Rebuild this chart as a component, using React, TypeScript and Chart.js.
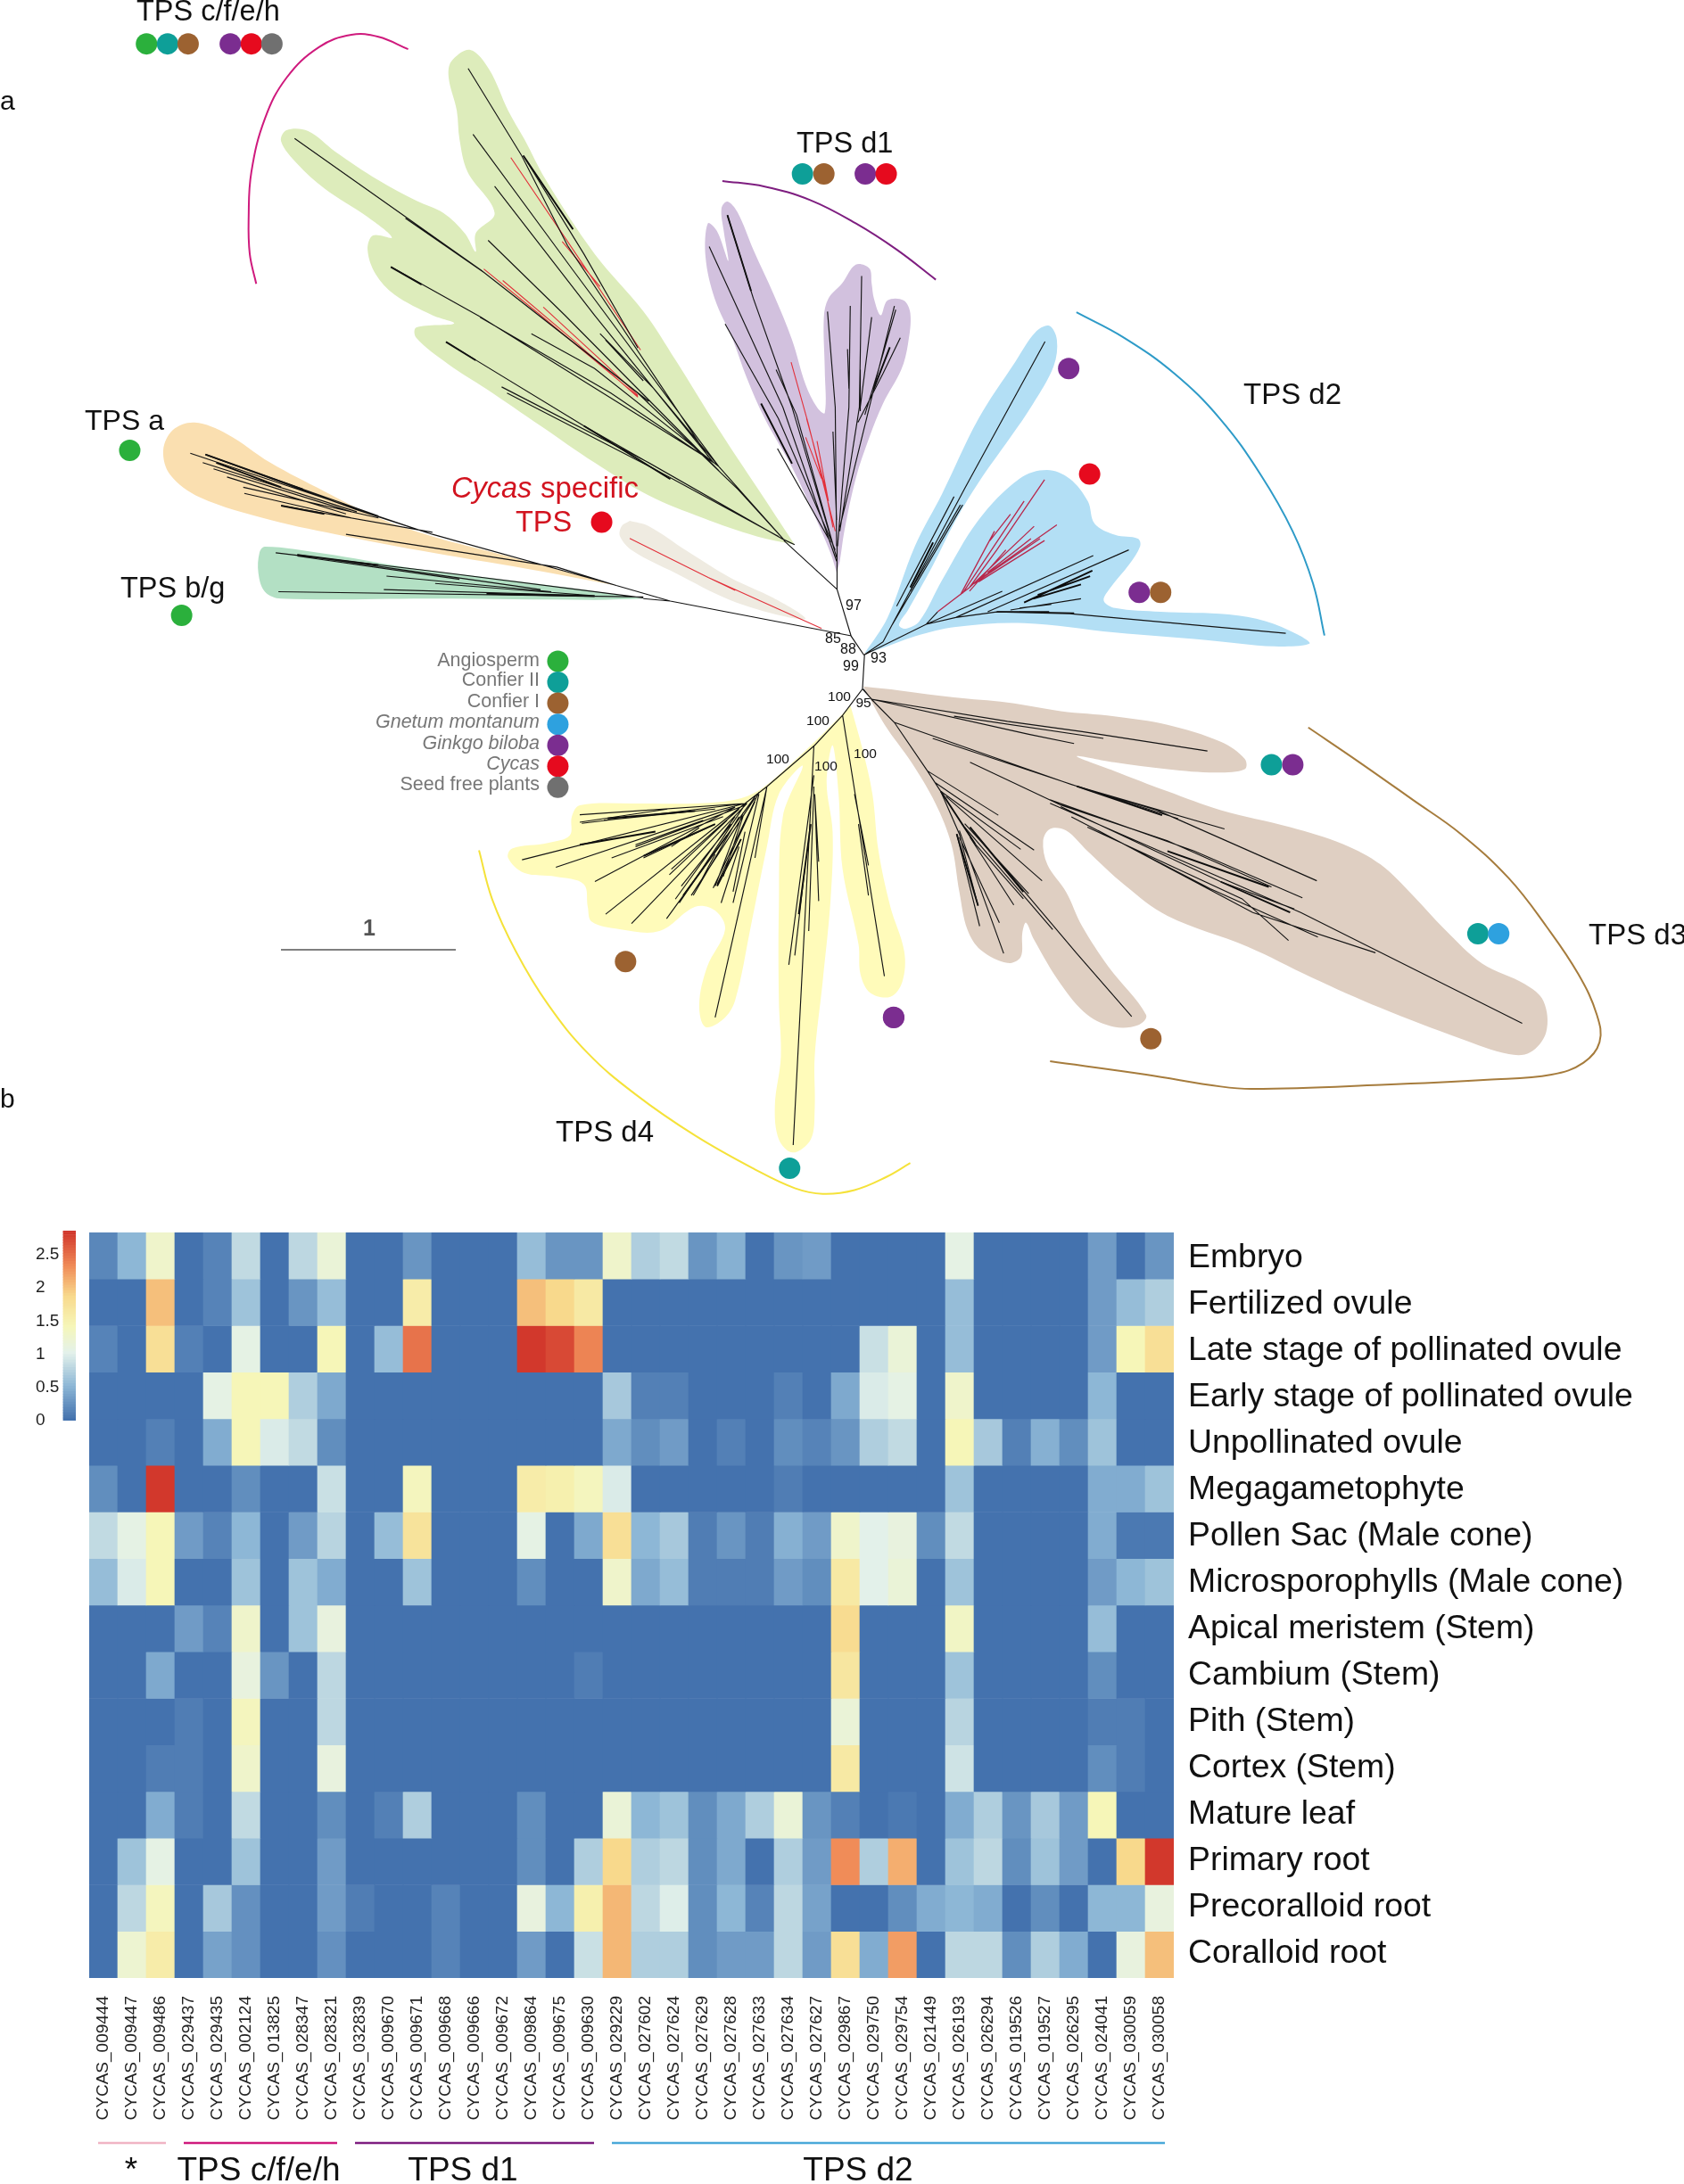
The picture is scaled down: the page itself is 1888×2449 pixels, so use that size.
import React, { useEffect, useRef } from "react";
import { Chart, registerables } from "chart.js";

Chart.register(...registerables);

const FONT = '"Liberation Sans", Arial, sans-serif';

// ---------- heat map values ----------
const genes = ["CYCAS_009444","CYCAS_009447","CYCAS_009486","CYCAS_029437","CYCAS_029435","CYCAS_002124","CYCAS_013825","CYCAS_028347","CYCAS_028321","CYCAS_032839","CYCAS_009670","CYCAS_009671","CYCAS_009668","CYCAS_009666","CYCAS_009672","CYCAS_009864","CYCAS_009675","CYCAS_009630","CYCAS_029229","CYCAS_027602","CYCAS_027624","CYCAS_027629","CYCAS_027628","CYCAS_027633","CYCAS_027634","CYCAS_027627","CYCAS_029867","CYCAS_029750","CYCAS_029754","CYCAS_021449","CYCAS_026193","CYCAS_026294","CYCAS_019526","CYCAS_019527","CYCAS_026295","CYCAS_024041","CYCAS_030059","CYCAS_030058"];
const tissues = ["Embryo","Fertilized ovule","Late stage of pollinated ovule","Early stage of pollinated ovule","Unpollinated ovule","Megagametophyte","Pollen Sac (Male cone)","Microsporophylls (Male cone)","Apical meristem (Stem)","Cambium (Stem)","Pith (Stem)","Cortex (Stem)","Mature leaf","Primary root","Precoralloid root","Coralloid root"];
const embryo =      [.15,.5,1.25,0,.12,.8,0,.78,1.15,0,0,.25,0,0,0,.55,.25,.25,1.25,.7,.8,.25,.45,0,.25,.3,0,0,0,0,1.05,0,0,0,0,.3,0,.25];
const fertilized =  [0,0,2,0,.12,.6,0,.25,.55,0,0,1.55,0,0,0,2,1.85,1.6,0,0,0,0,0,0,0,0,0,0,0,0,.55,0,0,0,0,.3,.55,.7];
const lateStage =   [.12,0,1.75,.1,0,1.05,0,0,1.4,0,.55,2.45,0,0,0,2.8,2.7,2.35,0,0,0,0,0,0,0,0,0,.85,1.15,0,.55,0,0,0,0,.3,1.4,1.75];
const earlyStage =  [0,0,0,0,1.05,1.4,1.4,.7,.4,0,0,0,0,0,0,0,0,0,.65,.1,.1,0,0,0,.1,0,.4,.95,1.05,0,1.25,0,0,0,0,.5,0,0];
const unpollinated =[0,0,.1,0,.42,1.4,.95,.8,.2,0,0,0,0,0,0,0,0,0,.4,.2,.3,0,.1,0,.2,.12,.25,.7,.8,0,1.4,.65,.1,.45,.2,.6,0,0];
const megagameto =  [.2,0,2.8,0,0,.2,0,0,.85,0,0,1.35,0,0,0,1.55,1.5,1.35,.95,0,0,0,0,0,.08,0,0,0,0,0,.6,0,0,0,0,.42,.42,.6];
const pollenSac =   [.8,1.05,1.4,.3,.12,.5,0,.3,.75,0,.55,1.7,0,0,0,1.05,0,.4,1.75,.5,.65,.08,.25,.08,.45,.3,1.25,1,1.1,.2,.8,0,0,0,0,.42,.05,.05];
const microsporo =  [.55,.95,1.4,0,0,.6,0,.6,.42,0,0,.6,0,0,0,.2,0,0,1.25,.4,.55,.08,.08,.08,.3,.2,1.6,1,1.15,0,.6,0,0,0,0,.3,.5,.6];
const apical =      [0,0,0,.3,.12,1.25,0,.6,1.1,0,0,0,0,0,0,0,0,0,0,0,0,0,0,0,0,0,1.8,0,0,0,1.3,0,0,0,0,.55,0,0];
const cambium =     [0,0,.4,0,0,1.1,.25,0,.78,0,0,0,0,0,0,0,0,.08,0,0,0,0,0,0,0,0,1.65,0,0,0,.6,0,0,0,0,.2,0,0];
const pith =        [0,0,0,.08,0,1.35,0,0,.78,0,0,0,0,0,0,0,0,0,0,0,0,0,0,0,0,0,1.15,0,0,0,.75,0,0,0,0,.08,.08,0];
const cortex =      [0,0,.08,.08,0,1.25,0,0,1.1,0,0,0,0,0,0,0,0,0,0,0,0,0,0,0,0,0,1.6,0,0,0,.88,0,0,0,0,.2,.08,0];
const matureLeaf =  [0,0,.42,.08,0,.8,0,0,.2,0,.1,.7,0,0,0,.2,0,0,1.15,.5,.6,.2,.4,.7,1.15,.25,.1,0,.05,0,.42,.7,.25,.65,.3,1.4,0,0];
const primaryRoot = [0,.6,1.05,0,0,.6,0,0,.3,0,0,0,0,0,0,.2,0,.7,1.85,.7,.78,.2,.4,0,.7,.3,2.3,.7,2.1,0,.6,.78,.2,.6,.3,0,1.85,2.8];
const precoralloid =[0,.78,1.35,0,.65,.22,0,0,.3,.08,0,0,.12,0,0,1.1,.5,1.5,2.05,.78,.97,.2,.5,.12,.78,.35,0,0,.2,.42,.5,.42,0,.2,0,.5,.5,1.1];
const coralloid =   [0,1.2,1.55,0,.35,.22,0,0,.22,0,0,0,.12,0,0,.3,0,.85,2.05,.7,.7,.2,.3,.3,.78,.3,1.75,.42,2.2,0,.78,.78,.2,.7,.42,0,1.1,2];
const expression = [embryo,fertilized,lateStage,earlyStage,unpollinated,megagameto,pollenSac,microsporo,apical,cambium,pith,cortex,matureLeaf,primaryRoot,precoralloid,coralloid];

const colourStopValues = [0,.5,1,1.4,1.85,2.3,2.86];
const colourStops = [[68,114,174],[141,183,214],[227,241,234],[246,246,184],[248,217,140],[240,140,88],[206,46,39]];
const scaleTicks = [0,.5,1,1.5,2,2.5];
const scaleMax = 2.86;

// ---------- tree: measured in calibrated crops of the figure ----------
const F4 = [0,0,1.65,2.178], F5 = [740,120,1.96,2.376], F6 = [400,680,2.24,2.376], F7 = [950,740,1.672,2.613];

const cladeGreen = [[1470,1330],[1400,1190],[1330,1050],[1250,880],[1190,760],[1100,620],[1010,440],[970,340],[940,270],[905,170],[870,122],[835,150],[830,190],[845,270],[850,340],[865,420],[915,520],[880,570],[880,615],[860,570],[820,520],[770,490],[700,440],[620,370],[570,320],[530,318],[520,345],[550,400],[600,460],[680,530],[725,580],[690,575],[680,610],[695,670],[730,720],[800,770],[840,790],[770,800],[770,825],[830,890],[900,950],[1000,1040],[1100,1130],[1200,1210],[1300,1265],[1400,1310],[1470,1330]];
const cladeOrange = [[1140,1430],[1000,1380],[900,1345],[800,1310],[700,1265],[600,1200],[500,1130],[420,1060],[360,1032],[320,1050],[302,1100],[315,1160],[370,1215],[500,1270],[640,1310],[800,1350],[1000,1395],[1140,1430]];
const cladeTeal = [[1190,1462],[1050,1435],[900,1410],[750,1385],[600,1352],[490,1335],[480,1350],[478,1400],[490,1445],[520,1462],[800,1462],[1100,1465],[1190,1462]];
const cladeBeige = [[1165,1272],[1200,1285],[1270,1345],[1350,1410],[1430,1460],[1490,1510],[1450,1505],[1350,1465],[1250,1400],[1170,1345],[1147,1310],[1150,1285],[1165,1272]];
const cladePurple = [[388,1240],[375,1190],[340,1090],[290,960],[230,830],[190,720],[160,620],[120,510],[100,400],[105,310],[125,330],[150,410],[140,330],[135,270],[148,252],[170,280],[205,380],[250,500],[290,620],[320,740],[345,800],[362,815],[362,700],[360,560],[370,510],[400,470],[430,420],[460,430],[465,470],[470,510],[485,555],[500,515],[535,515],[550,550],[545,630],[530,700],[490,790],[460,880],[430,990],[405,1130],[395,1210],[388,1240]];
const cladeBlue = [[450,1455],[500,1360],[560,1170],[620,1030],[700,830],[780,680],[825,600],[855,583],[872,620],[865,690],[820,790],[770,880],[700,1000],[650,1100],[600,1220],[545,1340],[525,1380],[540,1390],[570,1370],[620,1260],[700,1100],[790,990],[850,967],[900,990],[940,1050],[955,1110],[1000,1140],[1050,1150],[1055,1170],[1030,1220],[990,1280],[975,1315],[1000,1335],[1100,1345],[1250,1352],[1330,1370],[1400,1405],[1427,1430],[1350,1437],[1200,1420],[1000,1400],[800,1375],[650,1385],[560,1410],[480,1445],[450,1455]];
const cladeBrown = [[30,78],[100,90],[200,110],[300,125],[400,150],[500,165],[600,190],[700,240],[745,290],[745,320],[690,330],[600,320],[500,300],[430,282],[500,325],[600,385],[700,440],[830,490],[930,540],[1000,600],[1060,690],[1120,790],[1190,890],[1270,950],[1305,1000],[1310,1090],[1280,1150],[1240,1155],[1150,1110],[1000,1020],[870,930],[750,840],[600,750],[520,660],[450,560],[410,500],[380,495],[367,530],[375,600],[410,680],[440,780],[490,900],[560,1040],[545,1070],[500,1075],[450,1040],[400,950],[350,820],[335,770],[328,800],[325,870],[300,888],[250,850],[225,790],[210,680],[195,540],[165,420],[120,300],[70,190],[30,78]];
const cladeYellow = [[1240,265],[1170,340],[1090,420],[1010,490],[950,515],[850,525],[700,525],[560,530],[540,560],[535,610],[480,630],[390,645],[380,670],[420,710],[500,720],[570,740],[580,800],[590,840],[660,860],[760,865],[850,800],[900,810],[925,860],[880,960],[860,1060],[875,1120],[920,1100],[950,1050],[990,850],[1030,640],[1060,500],[1120,425],[1070,560],[1060,800],[1060,1050],[1065,1200],[1050,1330],[1060,1420],[1095,1455],[1140,1420],[1150,1340],[1150,1200],[1170,1000],[1190,780],[1195,600],[1180,470],[1195,370],[1210,500],[1220,700],[1260,900],[1265,980],[1290,1030],[1340,1040],[1370,1000],[1375,920],[1340,800],[1310,650],[1295,500],[1270,380],[1240,265]];

const arcMagenta = [[755,120],[700,90],[650,85],[590,115],[530,190],[490,290],[465,420],[460,530],[462,620],[474,693]];
const arcPurple = [[137,197],[230,212],[330,248],[430,310],[520,380],[606,460]];
const arcBlue = [[915,547],[1020,615],[1130,710],[1230,830],[1320,980],[1390,1130],[1435,1270],[1460,1408]];
const arcBrown = [[864,198],[960,300],[1060,410],[1150,510],[1240,640],[1310,780],[1370,920],[1405,1040],[1410,1120],[1380,1180],[1320,1215],[1200,1230],[1000,1245],[760,1257],[700,1250],[560,1215],[380,1176]];
const arcYellow = [[307,650],[340,780],[400,920],[480,1060],[580,1190],[700,1300],[850,1410],[1000,1500],[1100,1550],[1170,1565],[1250,1555],[1330,1520],[1390,1483]];

const stemF5 = [[[272,1155],[389,1285]],[[389,1170],[389,1285],[420,1410],[448,1460]],[[448,1460],[490,1425]]];
const stemF4 = [[[1575,1553],[1240,1468],[1140,1430]],[[1240,1468],[1190,1462]],[[1450,1318],[1470,1330]]];
const stemF6 = [[[1275,130],[1270,220],[1220,290],[1150,370],[1030,480],[975,525]],[[1270,220],[1300,255]]];

const greenBlack = [[[866,167],[965,380],[1050,600],[1310,1115]],[[875,328],[1060,660],[1330,1140]],[[915,455],[1100,770],[1320,1130]],[[903,587],[1045,770],[1330,1150]],[[968,380],[1080,620],[1180,850]],[[545,338],[890,660],[1180,960],[1365,1195],[1450,1318]],[[750,533],[900,670],[1200,980]],[[723,652],[890,775],[1310,1120]],[[888,775],[1130,960],[1320,1130]],[[983,815],[1100,900],[1330,1140]],[[825,835],[1080,1040],[1450,1318]],[[928,945],[1200,1130],[1450,1318]],[[938,960],[1210,1145],[1440,1310]],[[1110,815],[1210,950],[1330,1140]],[[1120,830],[1190,930]],[[1330,1140],[1450,1318]]];
const greenHeavy = [[[968,380],[1060,560]],[[723,652],[780,695]],[[825,835],[880,880]],[[1080,1040],[1240,1170]]];
const greenRed = [[[945,385],[1050,590],[1185,855]],[[895,657],[1000,770],[1180,968]],[[930,685],[1060,830],[1180,970]],[[1005,750],[1120,890],[1180,965]],[[1040,590],[1110,700]]];
const orangeBlack = [[[352,1107],[800,1305],[1140,1430]],[[380,1110],[660,1245],[800,1305]],[[390,1115],[700,1260]],[[375,1130],[660,1250]],[[395,1145],[650,1250]],[[420,1165],[640,1255]],[[450,1190],[700,1265]],[[452,1205],[650,1265]],[[520,1235],[800,1300]],[[640,1305],[1030,1385],[1140,1430]]];
const orangeHeavy = [[[380,1110],[560,1195]],[[520,1235],[600,1255]],[[400,1130],[520,1190]]];
const tealBlack = [[[510,1350],[800,1395],[1190,1460]],[[550,1355],[1000,1440]],[[715,1407],[1020,1445]],[[805,1425],[1100,1455]],[[515,1445],[1190,1458]],[[710,1440],[1100,1455]],[[550,1358],[850,1415]]];
const tealHeavy = [[[550,1355],[700,1380]],[[900,1450],[1100,1456]]];
const beigeRed = [[[1165,1315],[1310,1410],[1520,1535]],[[1310,1410],[1360,1442]]];
const purpleBlack = [[[108,372],[270,800],[388,1210]],[[148,288],[205,510],[290,800],[388,1200]],[[143,578],[260,830],[385,1180]],[[255,700],[300,820],[388,1200]],[[258,910],[375,1160]],[[368,545],[385,800],[388,1170]],[[418,530],[415,800],[390,1170]],[[443,450],[438,800],[395,1130]],[[465,560],[440,800]],[[515,530],[470,750],[395,1120]],[[518,540],[480,700],[450,820]],[[528,615],[490,710],[435,840]],[[380,865],[388,1100]],[[412,645],[415,750]],[[440,700],[440,810]]];
const purpleHeavy = [[[148,288],[200,490]],[[470,750],[505,640]],[[222,790],[290,950]]];
const purpleRed = [[[288,680],[325,840],[385,1130]],[[322,830],[360,1000],[380,1120]],[[345,890],[370,1050]],[[320,880],[355,990]]];
const blueBlack = [[[846,625],[670,1015],[490,1425]],[[646,1038],[520,1330]],[[665,1060],[510,1380]],[[660,1060],[550,1290]],[[448,1460],[585,1378],[650,1360],[740,1345],[900,1350],[1375,1402]],[[585,1378],[752,1290]],[[650,1360],[952,1195]],[[720,1345],[1030,1180]],[[770,1340],[925,1310]],[[790,1335],[860,1325]],[[790,1345],[910,1348]],[[585,1378],[610,1345]]];
const blueHeavy = [[[740,1345],[855,1345]],[[800,1320],[950,1235]],[[820,1310],[925,1272]],[[830,1300],[945,1250]],[[600,1160],[550,1280]]];
const blueCrimson = [[[610,1345],[680,1280],[740,1180],[845,993]],[[660,1300],[735,1130]],[[665,1295],[800,1050]],[[680,1280],[822,1117]],[[700,1260],[872,1113]],[[700,1265],[845,1155]],[[690,1270],[835,1150]],[[720,1240],[815,1150]],[[680,1290],[760,1180]],[[725,1155],[770,1085]]];
const brownBlack = [[[30,85],[45,115]],[[45,115],[300,180],[440,210],[675,267]],[[45,115],[340,218],[425,245]],[[200,165],[480,230]],[[45,115],[88,183],[150,325],[175,385],[210,510],[245,720]],[[88,183],[420,365],[580,440],[880,647]],[[160,230],[440,375],[620,465]],[[430,370],[707,495]],[[230,300],[400,425],[600,530],[795,665]],[[380,410],[650,560],[853,697]],[[400,430],[700,650],[838,730]],[[420,460],[680,670],[882,812]],[[450,490],[740,700],[827,822]],[[470,500],[760,740],[990,858]],[[380,420],[850,740],[1265,1065]],[[150,325],[283,455]],[[165,360],[350,557]],[[175,385],[325,555]],[[185,400],[365,647]],[[220,480],[340,685]],[[230,490],[430,860],[533,1045]],[[220,490],[385,790]],[[205,510],[248,780]],[[210,520],[285,770]],[[210,500],[293,860]],[[230,520],[312,718]],[[240,540],[330,700]]];
const brownHeavy = [[[430,370],[590,455]],[[175,385],[240,540]],[[230,490],[330,680]],[[205,510],[245,720]],[[600,560],[790,665]],[[700,650],[830,740]]];
const yellowBlack = [[[975,525],[560,555]],[[975,525],[565,578]],[[900,540],[620,570]],[[975,525],[415,675]],[[950,535],[500,695]],[[920,560],[640,670]],[[950,535],[598,733]],[[975,525],[625,820]],[[980,525],[690,845]],[[1005,500],[778,832]],[[975,530],[700,640]],[[880,590],[720,670]],[[960,540],[790,700]],[[1010,495],[895,750]],[[1030,480],[1000,670]],[[1010,500],[945,790]],[[1000,510],[840,770]],[[980,520],[810,790]],[[1000,520],[905,740]],[[950,560],[800,780]],[[1030,480],[900,1095]],[[1148,370],[1096,1435]],[[1148,450],[1085,955]],[[1148,480],[1135,865]],[[1150,500],[1160,785]],[[1150,500],[1160,680]],[[1125,700],[1100,930]],[[1220,290],[1325,985]],[[1250,500],[1285,690]],[[1260,580],[1285,770]],[[870,570],[700,635]],[[860,590],[790,640]],[[930,570],[785,715]],[[940,580],[815,745]],[[930,600],[810,790]],[[960,560],[845,770]],[[970,550],[900,745]],[[970,560],[920,720]],[[975,600],[945,760]],[[960,640],[915,790]],[[900,660],[860,740]],[[780,540],[560,575]]];
const yellowHeavy = [[[850,545],[630,565]],[[750,600],[560,635]],[[900,580],[720,665]],[[930,610],[820,770]],[[965,620],[905,745]],[[1140,580],[1110,820]]];

const C = { green:"#2BB03C", teal:"#0E9F98", brown:"#9C6231", gnetum:"#2EA1DF", purple:"#7B2D90", red:"#E60A1E", grey:"#707070" };
const dotsF4 = [[271,107,C.green],[310,107,C.teal],[348,107,C.brown],[426,107,C.purple],[465,107,C.red],[503,107,C.grey],[240,1100,C.green],[336,1503,C.green],[1113,1275,C.red]];
const dotsF5 = [[313,178,C.teal],[360,178,C.brown],[451,178,C.purple],[497,178,C.red],[898,697,C.purple],[944,978,C.red],[1053,1293,C.purple],[1100,1293,C.brown]];
const dotsF6 = [[675,946,C.brown],[1348,1095,C.purple],[1087,1497,C.teal],[505,146,C.green],[505,202,C.teal],[505,258,C.brown],[505,314,C.gnetum],[505,370,C.purple],[505,426,C.red],[505,482,C.grey]];
const dotsF7 = [[795,307,C.teal],[835,307,C.purple],[1182,802,C.teal],[1221,802,C.gnetum],[569,1110,C.brown],[87,1048,C.purple]];

const scaleBar = [[315,1065],[511,1065]];

// text, x, y, size, colour, align, style
const treeTexts = [
  ["a",0,115,30,"#111","left",""],["b",0,1234,30,"#111","left",""],
  ["TPS c/f/e/h",153,14,32.5,"#111","left",""],["TPS a",95,473,32,"#111","left",""],["TPS b/g",135,661,32.5,"#111","left",""],
  ["Cycas",506,549,32.5,"#D2131F","left","italic"],["specific",606,549,33,"#D2131F","left",""],["TPS",578,587,32.5,"#D2131F","left",""],
  ["TPS d1",893,162,32.5,"#111","left",""],["TPS d2",1394,444,33,"#111","left",""],["TPS d3",1781,1050,33,"#111","left",""],["TPS d4",623,1271,33,"#111","left",""],
  ["1",407,1042,25,"#555","left","bold"],
  ["Angiosperm",605,741,21.5,"#777","right",""],["Confier II",605,763,21.5,"#777","right",""],["Confier I",605,787,21.5,"#777","right",""],
  ["Gnetum montanum",605,810,21.5,"#777","right","italic"],["Ginkgo biloba",605,834,21.5,"#777","right","italic"],["Cycas",605,857,21.5,"#777","right","italic"],["Seed free plants",605,880,21.5,"#777","right",""],
  ["97",957,680,16,"#111","center",""],["85",934,717,16,"#111","center",""],["88",951,729,16,"#111","center",""],["93",985,739,16,"#111","center",""],["99",954,748,16,"#111","center",""],
  ["100",941,782,15.5,"#111","center",""],["95",968,789,15.5,"#111","center",""],["100",917,809,15.5,"#111","center",""],["100",872,852,15.5,"#111","center",""],["100",926,860,15.5,"#111","center",""],["100",970,846,15.5,"#111","center",""],
];

const geneGroups = [
  ["*",0,2,"#F0B4C4",147],["TPS c/f/e/h",3,8,"#CF1A7D",290],["TPS d1",9,17,"#7E1E80",519],["TPS d2",18,37,"#4AA8D8",962],
];

// ---------- helpers ----------
const place = (f, p) => ({ x: f[0] + p[0] / f[2], y: f[1] + p[1] / f[3] });
const placeAll = (f, pts) => pts.map((p) => place(f, p));
const strokes = (pairs) => {
  const out = [];
  pairs.forEach(([f, list]) => list.forEach((line) => { out.push(...placeAll(f, line), { x: NaN, y: NaN }); }));
  return out;
};
const colourOf = (v) => {
  let i = 0;
  while (i < colourStopValues.length - 2 && v > colourStopValues[i + 1]) i++;
  const t = Math.min(1, Math.max(0, (v - colourStopValues[i]) / (colourStopValues[i + 1] - colourStopValues[i])));
  const a = colourStops[i], b = colourStops[i + 1];
  return `rgb(${a.map((c, k) => Math.round(c + (b[k] - c) * t)).join(",")})`;
};

const clade = (f, pts, colour) => ({ type: "scatter", data: placeAll(f, pts), showLine: true, fill: "shape", backgroundColor: colour, borderWidth: 0, borderColor: "transparent", pointRadius: 0, tension: 0.35, order: 20 });
const arc = (f, pts, colour) => ({ data: placeAll(f, pts), showLine: true, fill: false, borderColor: colour, borderWidth: 2, pointRadius: 0, tension: 0.4, order: 5 });
const branch = (pairs, colour, width) => ({ data: strokes(pairs), showLine: true, fill: false, borderColor: colour, borderWidth: width, pointRadius: 0, tension: 0, order: 10 });

const treeTextPlugin = {
  id: "treeText",
  afterDraw(chart) {
    const { ctx, scales } = chart;
    ctx.save();
    ctx.textBaseline = "middle";
    treeTexts.forEach(([t, x, y, size, colour, align, style]) => {
      ctx.font = `${style} ${size}px ${FONT}`;
      ctx.fillStyle = colour;
      ctx.textAlign = align;
      ctx.fillText(t, scales.x.getPixelForValue(x), scales.y.getPixelForValue(y));
    });
    ctx.restore();
  },
};

const groupPlugin = {
  id: "geneGroups",
  afterDraw(chart) {
    const { ctx, scales } = chart;
    ctx.save();
    geneGroups.forEach(([label, first, last, colour, labelX]) => {
      ctx.strokeStyle = colour;
      ctx.lineWidth = 2.5;
      ctx.beginPath();
      ctx.moveTo(scales.x.getPixelForValue(first) - 6, 1043);
      ctx.lineTo(scales.x.getPixelForValue(last) + 6, 1043);
      ctx.stroke();
      ctx.font = `37px ${FONT}`;
      ctx.fillStyle = "#111";
      ctx.textAlign = "center";
      ctx.textBaseline = "middle";
      ctx.fillText(label, labelX, 1075);
    });
    ctx.restore();
  },
};

const noPad = (s) => { s.paddingTop = 0; s.paddingBottom = 0; s.paddingLeft = 0; s.paddingRight = 0; };

export default function App() {
  const treeRef = useRef(null);
  const heatRef = useRef(null);
  const barRef = useRef(null);

  useEffect(() => {
    const tree = new Chart(treeRef.current, {
      type: "scatter",
      data: {
        datasets: [
          { data: [...dotsF4.map((d) => place(F4, d)), ...dotsF5.map((d) => place(F5, d)), ...dotsF6.map((d) => place(F6, d)), ...dotsF7.map((d) => place(F7, d))], showLine: false, pointRadius: 12, pointBorderWidth: 0, pointBackgroundColor: [...dotsF4, ...dotsF5, ...dotsF6, ...dotsF7].map((d) => d[2]), order: 1 },
          { data: scaleBar.map(([x, y]) => ({ x, y })), showLine: true, borderColor: "#555", borderWidth: 1.5, pointRadius: 0, order: 5 },
          branch([[F5, stemF5], [F4, stemF4], [F6, stemF6], [F4, greenBlack], [F4, orangeBlack], [F4, tealBlack], [F5, purpleBlack], [F5, blueBlack], [F7, brownBlack], [F6, yellowBlack]], "#141414", 1.15),
          branch([[F5, blueHeavy], [F4, greenHeavy], [F4, orangeHeavy], [F4, tealHeavy], [F5, purpleHeavy], [F7, brownHeavy], [F6, yellowHeavy]], "#0c0c0c", 1.9),
          branch([[F4, greenRed], [F4, beigeRed], [F5, purpleRed]], "#E2303A", 1.1),
          branch([[F5, blueCrimson]], "#B8284C", 1.3),
          arc(F4, arcMagenta, "#CF1A7D"), arc(F5, arcPurple, "#7E1E80"), arc(F5, arcBlue, "#2E9BC8"), arc(F7, arcBrown, "#A67C3D"), arc(F6, arcYellow, "#F5E23A"),
          clade(F4, cladeGreen, "#DDECBB"), clade(F4, cladeOrange, "#FADFB0"), clade(F4, cladeTeal, "#B3E0C4"), clade(F4, cladeBeige, "#EFEBE1"),
          clade(F5, cladePurple, "#D2C1DE"), clade(F5, cladeBlue, "#B3DFF5"), clade(F7, cladeBrown, "#DFCFC2"), clade(F6, cladeYellow, "#FFFBBA"),
        ],
      },
      options: {
        animation: false, responsive: false, devicePixelRatio: 1,
        layout: { padding: 0, autoPadding: false },
        plugins: { legend: { display: false }, tooltip: { enabled: false } },
        elements: { line: { capBezierPoints: false } },
        scales: {
          x: { type: "linear", min: 0, max: 1888, display: false },
          y: { type: "linear", min: 0, max: 1370, reverse: true, display: false },
        },
      },
      plugins: [treeTextPlugin],
    });

    const heat = new Chart(heatRef.current, {
      type: "bar",
      data: {
        labels: genes,
        datasets: expression.map((row, i) => ({
          data: row.map(() => [i, i + 1]),
          backgroundColor: row.map(colourOf),
          grouped: false, barPercentage: 1, categoryPercentage: 1, borderWidth: 0,
        })),
      },
      options: {
        animation: false, responsive: false, devicePixelRatio: 1,
        layout: { padding: { left: 100, top: 22, right: 0, bottom: 0 }, autoPadding: false },
        plugins: { legend: { display: false }, tooltip: { enabled: false } },
        scales: {
          x: {
            type: "category", grid: { display: false, drawTicks: false }, border: { display: false },
            ticks: { autoSkip: false, maxRotation: 90, minRotation: 90, padding: 20, color: "#222", font: { family: FONT, size: 19 } },
            afterFit(s) { s.height = 231; noPad(s); },
          },
          y: {
            type: "linear", position: "right", min: 0, max: 16, reverse: true,
            grid: { display: false, drawTicks: false }, border: { display: false },
            afterBuildTicks(s) { s.ticks = tissues.map((_, i) => ({ value: i + 0.557 - i * 0.0057 })); },
            ticks: { autoSkip: false, padding: 16, color: "#111", font: { family: FONT, size: 37.4 }, callback: (v, i) => tissues[i] },
            afterFit(s) { s.width = 572; noPad(s); },
          },
        },
      },
      plugins: [groupPlugin],
    });

    const steps = [];
    for (let v = 0; v < scaleMax; v += 0.04) steps.push(v);
    const bar = new Chart(barRef.current, {
      type: "bar",
      data: {
        labels: ["scale"],
        datasets: steps.map((v) => ({ data: [[v, v + 0.04]], backgroundColor: colourOf(v), grouped: false, barPercentage: 1, categoryPercentage: 1, borderWidth: 0 })),
      },
      options: {
        animation: false, responsive: false, devicePixelRatio: 1,
        layout: { padding: { left: 40, top: 20, right: 15, bottom: 17 }, autoPadding: false },
        plugins: { legend: { display: false }, tooltip: { enabled: false } },
        scales: {
          x: { display: false },
          y: {
            type: "linear", min: 0, max: scaleMax,
            grid: { display: false, drawTicks: false }, border: { display: false },
            afterBuildTicks(s) { s.ticks = scaleTicks.map((value) => ({ value })); },
            ticks: { crossAlign: "far", color: "#222", font: { family: FONT, size: 19 }, callback: (v) => String(v) },
            afterFit(s) { s.width = 30.5; noPad(s); },
          },
        },
      },
    });

    return () => { tree.destroy(); heat.destroy(); bar.destroy(); };
  }, []);

  const abs = (left, top) => ({ position: "absolute", left, top, display: "block" }) as React.CSSProperties;
  return (
    <div style={{ position: "absolute", left: 0, top: 0, width: 1888, height: 2449, background: "#fff", overflow: "hidden" }}>
      <canvas ref={treeRef} width={1888} height={1370} style={abs(0, 0)} />
      <canvas ref={heatRef} width={1888} height={1089} style={abs(0, 1360)} />
      <canvas ref={barRef} width={100} height={250} style={abs(0, 1360)} />
    </div>
  );
}
